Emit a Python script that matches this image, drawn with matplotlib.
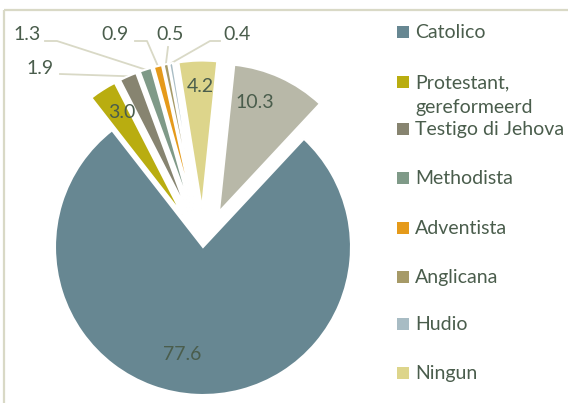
import matplotlib.pyplot as plt
from matplotlib.patches import Rectangle
import numpy as np

plt.rcParams['font.family'] = ['Lato', 'DejaVu Sans']

# pie data (clockwise from Catolico)
categories = ['Catolico', 'Protestant,\ngereformeerd', 'Testigo di Jehova', 'Methodista',
              'Adventista', 'Anglicana', 'Hudio', 'Ningun', 'Otro']
values = [77.6, 3.0, 1.9, 1.3, 0.9, 0.5, 0.4, 4.2, 10.3]
value_labels = ['77.6', '3.0', '1.9', '1.3', '0.9', '0.5', '0.4', '4.2', '10.3']
colors = ['#678792', '#b9ad10', '#878470', '#7f9a88', '#e59a1a',
          '#a69a67', '#a8bcc4', '#ddd58b', '#b8b8a8']

TXT = '#4a5d4c'
LINE = '#d9d9c6'
W, H = 568, 403
CX, CY, R = 203, 247, 148   # pie centre / radius in pixels
FS = 14


def px(x, y):
    # pixel (from top-left) -> data coords
    return (x - CX) / R, (CY - y) / R


fig = plt.figure(figsize=(W / 100, H / 100), dpi=100)
ax = fig.add_axes([0, 0, 1, 1])

explode = [0] + [0.26] * (len(values) - 1)
wedges, _ = ax.pie(values, colors=colors, startangle=47, counterclock=False,
                   explode=explode, radius=1, center=(0, 0),
                   wedgeprops=dict(edgecolor='white', linewidth=1.5))
ax.set_aspect('auto')
x0, y0 = px(0, H)
x1, y1 = px(W, 0)
ax.set_xlim(x0, x1)
ax.set_ylim(y0, y1)
ax.axis('off')

# labels inside slices
inside = {0: (182, 354), 1: (122, 113), 7: (200, 87), 8: (255, 102)}
for i, (x, y) in inside.items():
    ax.text(*px(x, y), value_labels[i], ha='center', va='center', fontsize=FS, color=TXT)

# labels with leader lines: text pos, line start, optional elbow
leaders = {2: ((40, 68), (60, 74), None),
           3: ((27, 35), (45, 41), (57, 41)),
           4: ((115, 35), (135, 41), (147, 41)),
           5: ((170, 35), (168, 47), None),
           6: ((237, 35), (220, 41), (210, 41))}
for i, (tpos, start, elbow) in leaders.items():
    w = wedges[i]
    mid = np.deg2rad((w.theta1 + w.theta2) / 2)
    end = (w.center[0] + w.r * np.cos(mid), w.center[1] + w.r * np.sin(mid))
    pts = [px(*start)]
    if elbow:
        pts.append(px(*elbow))
    pts.append(end)
    xs, ys = zip(*pts)
    ax.plot(xs, ys, color=LINE, lw=1.3, zorder=0)
    ax.text(*px(*tpos), value_labels[i], ha='center', va='center', fontsize=FS, color=TXT)

# legend (the last entry falls below the visible area in the original)
rows = [32, 82, 129, 178, 228, 277, 324, 373]
for lab, col, y in zip(categories, colors, rows):
    lx, ly = px(397, y + 6)
    ax.add_patch(Rectangle((lx, ly), 12 / R, 12 / R, color=col, lw=0))
    nlines = lab.count('\n')
    ax.text(*px(415, y + 6.5 + 25 * nlines), lab, ha='left', va='baseline', fontsize=FS,
            color=TXT, linespacing=1.55)

# outer frame
fx, fy = px(4, 10)
ax.add_patch(Rectangle((fx, fy), 700 / R, -500 / R, fill=False, edgecolor=LINE, lw=1.6))

fig.savefig('out.png', dpi=100)
